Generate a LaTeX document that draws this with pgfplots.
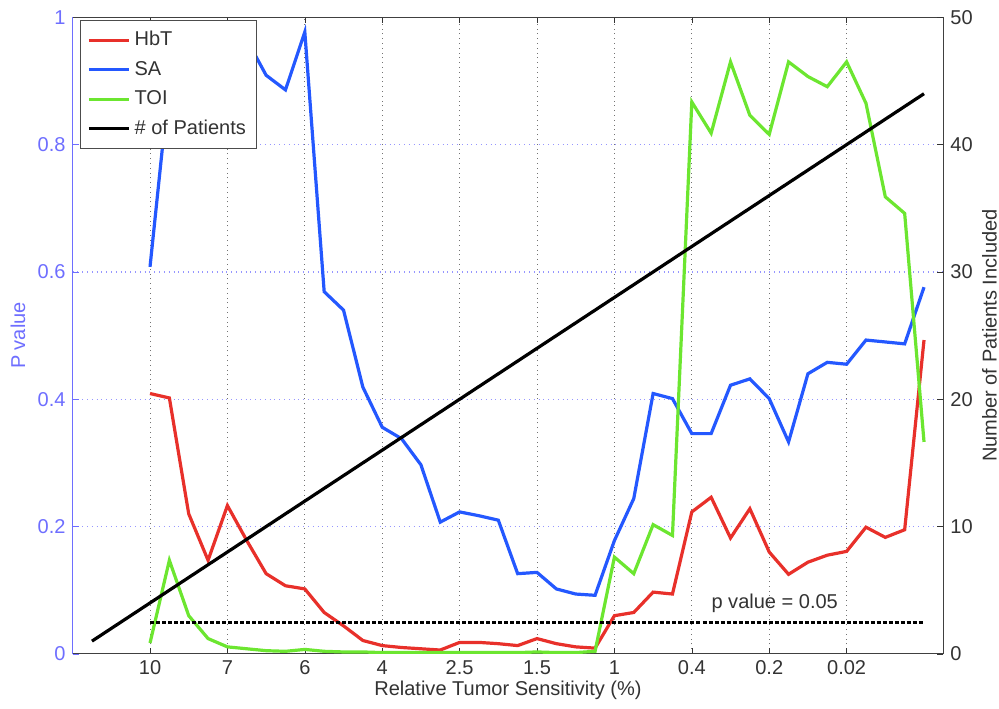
\documentclass[border=0pt]{standalone}
\usepackage{fontspec}
\setmainfont{Liberation Sans}
\usepackage{pgfplots}
\pgfplotsset{compat=1.18}
\usepackage{pgfplotstable}
\definecolor{hbt}{RGB}{232,48,42}
\definecolor{sa}{RGB}{36,88,255}
\definecolor{toi}{RGB}{108,230,48}
\definecolor{axblue}{RGB}{110,110,255}
\definecolor{gridblue}{RGB}{150,150,255}

\pgfplotstableread{
idx hbt sa toi
4 0.409 0.608 0.017
5 0.402 0.900 0.147
6 0.220 0.970 0.060
7 0.147 0.990 0.024
8 0.233 0.980 0.011
9 0.178 0.965 0.008
10 0.126 0.909 0.005
11 0.107 0.886 0.004
12 0.102 0.977 0.007
13 0.065 0.569 0.004
14 0.044 0.540 0.003
15 0.021 0.419 0.003
16 0.013 0.356 0.002
17 0.010 0.338 0.002
18 0.008 0.297 0.002
19 0.006 0.207 0.002
20 0.018 0.223 0.002
21 0.018 0.217 0.002
22 0.016 0.210 0.002
23 0.013 0.126 0.002
24 0.024 0.128 0.003
25 0.016 0.102 0.002
26 0.011 0.094 0.002
27 0.009 0.092 0.004
28 0.060 0.178 0.152
29 0.065 0.244 0.126
30 0.097 0.409 0.203
31 0.094 0.401 0.186
32 0.223 0.346 0.867
33 0.246 0.346 0.818
34 0.182 0.422 0.930
35 0.228 0.432 0.846
36 0.160 0.401 0.816
37 0.125 0.333 0.930
38 0.144 0.440 0.907
39 0.155 0.458 0.891
40 0.161 0.455 0.930
41 0.199 0.493 0.865
42 0.183 0.490 0.718
43 0.195 0.487 0.692
44 0.493 0.576 0.333
}\pvals

\pgfplotstableread{
idx n
1 1
2 2
3 3
4 4
5 5
6 6
7 7
8 8
9 9
10 10
11 11
12 12
13 13
14 14
15 15
16 16
17 17
18 18
19 19
20 20
21 21
22 22
23 23
24 24
25 25
26 26
27 27
28 28
29 29
30 30
31 31
32 32
33 33
34 34
35 35
36 36
37 37
38 38
39 39
40 40
41 41
42 42
43 43
44 44
}\patients

\pgfplotsset{/pgf/number format/assume math mode=true}

\begin{document}
\begin{tikzpicture}
\begin{axis}[
  scale only axis, width=435pt, height=318pt,
  xmin=0, xmax=45, ymin=0, ymax=1,
  axis x line*=box, axis y line*=left,
  y axis line style={axblue},
  x axis line style={black!75},
  xtick={4,8,12,16,20,24,28,32,36,40},
  xticklabels={10,7,6,4,2.5,1.5,1,0.4,0.2,0.02},
  ytick={0,0.2,0.4,0.6,0.8,1},
  tick align=inside,
  major tick length=3pt,
  xmajorgrids, ymajorgrids,
  x grid style={dotted, black!55, line width=0.5pt},
  y grid style={dotted, gridblue, line width=0.6pt},
  y tick label style={text=axblue},
  ytick style={axblue},
  xtick style={black!80},
  x tick label style={text=black!80},
  xlabel={Relative Tumor Sensitivity (\%)},
  xlabel style={text=black!80, overlay, at={(rel axis cs:0.5,-0.0577)}, anchor=center},
  ylabel={P value},
  ylabel style={text=axblue, overlay, at={(rel axis cs:-0.0628,0.5)}, anchor=center},
  legend cell align=left,
  legend style={at={(rel axis cs:0.0084,0.9958)}, anchor=north west, draw=black!70, fill=white, row sep=2.2pt, inner sep=3.5pt, text=black!80},
  legend image code/.code={\draw[#1] (0pt,0pt) -- (20pt,0pt);},
]
\addplot[hbt, line width=1.6pt] table[x=idx,y=hbt]{\pvals};
\addlegendentry{HbT}
\addplot[sa, line width=1.6pt] table[x=idx,y=sa]{\pvals};
\addlegendentry{SA}
\addplot[toi, line width=1.6pt] table[x=idx,y=toi]{\pvals};
\addlegendentry{TOI}
\addlegendimage{black, line width=1.6pt}
\addlegendentry{\# of Patients}
\addplot[black, line width=1.5pt, dash pattern=on 2pt off 1pt, forget plot] coordinates {(4,0.05) (44,0.05)};
\node[anchor=west, text=black!80, inner sep=0pt] at (axis cs:33.0,0.079) {p value = 0.05};
\coordinate (bbl) at (rel axis cs:-0.0834,-0.086);
\coordinate (btr) at (rel axis cs:1.0639,1.0272);
\end{axis}
\begin{axis}[
  scale only axis, width=435pt, height=318pt,
  xmin=0, xmax=45, ymin=0, ymax=50,
  axis y line*=right, axis x line=none,
  y axis line style={black!75},
  ytick={0,10,20,30,40,50},
  tick align=inside,
  major tick length=3pt,
  ytick style={black!80},
  y tick label style={text=black!80},
  ylabel={Number of Patients Included},
  ylabel style={text=black!80, overlay, at={(rel axis cs:1.053,0.5)}, anchor=center},
]
\addplot[black, line width=1.6pt] table[x=idx,y=n]{\patients};
\end{axis}
\path (bbl) rectangle (btr);
\end{tikzpicture}
\end{document}
